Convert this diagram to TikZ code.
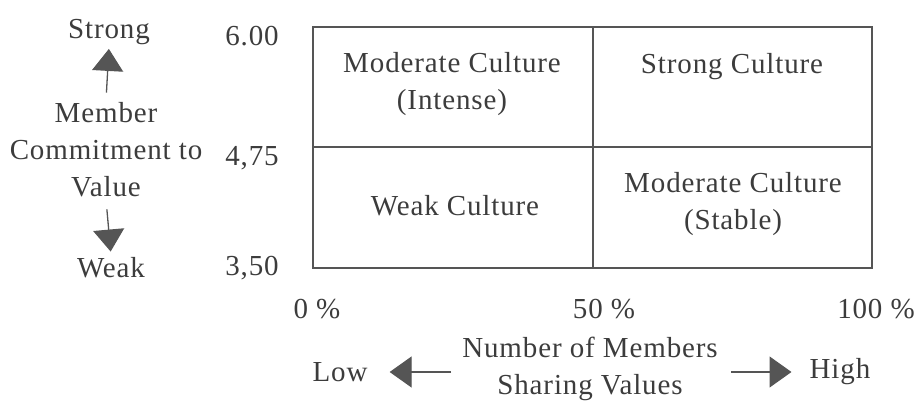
\documentclass[tikz,border=0pt]{standalone}
\usepackage{fontspec}
\setmainfont[LetterSpace=3]{Liberation Serif}
\usetikzlibrary{arrows.meta}

\definecolor{ink}{HTML}{3C3C3C}
\definecolor{rule}{HTML}{555555}

\begin{document}
\begin{tikzpicture}[%
		x=1pt,y=-1pt,
		every node/.style={text=ink,inner sep=2pt,
			font=\fontsize{29}{37}\selectfont},
		bigarrow/.style={draw=rule,line width=1.3pt,
			-{Triangle[length=22pt,width=31pt]}}]
		\useasboundingbox (0,0) rectangle (921,401);
		% quadrants
		\draw[rule,line width=1.2pt] (313,27) rectangle (872,268);
		\draw[rule,line width=1.2pt] (593,27) -- (593,268) (313,147) -- (872,147);
		\node[align=center] (intense) at (452,84) {Moderate Culture\\(Intense)};
		\node (strongc) at (732,67) {Strong Culture};
		\node (weakc) at (455,206) {Weak Culture};
		\node[align=center] (stable) at (733,204) {Moderate Culture\\(Stable)};
		% vertical axis
		\node (strong) at (109,32) {Strong};
		\node[align=center] (commit) at (106,150) {Member\\Commitment to\\Value};
		\node (weak) at (111,268) {Weak};
		\draw[bigarrow,shorten <=8pt,shorten >=2pt] (commit.north) -- (strong.south);
		\draw[bigarrow,shorten <=10pt,shorten >=4pt] (commit.south) -- (weak.north);
		\node (v600) at (252,36) {6.00};
		\node (v475) at (252,158) {4,75};
		\node (v350) at (252,268) {3,50};
		% horizontal axis
		\node (p0) at (317,309) {0 \%};
		\node (p50) at (604,309) {50 \%};
		\node (p100) at (876,309) {100 \%};
		\node[align=center] (members) at (590,369) {Number of Members\\Sharing Values};
		\node (low) at (340,372) {Low};
		\node (high) at (840,372) {High};
		\coordinate (lowfrom) at (451,372);
		\coordinate (highfrom) at (731,372);
		\draw[bigarrow,shorten >=20pt] (lowfrom) -- (low.east);
		\draw[bigarrow,shorten >=16pt] (highfrom) -- (high.west);
	\end{tikzpicture}
\end{document}
